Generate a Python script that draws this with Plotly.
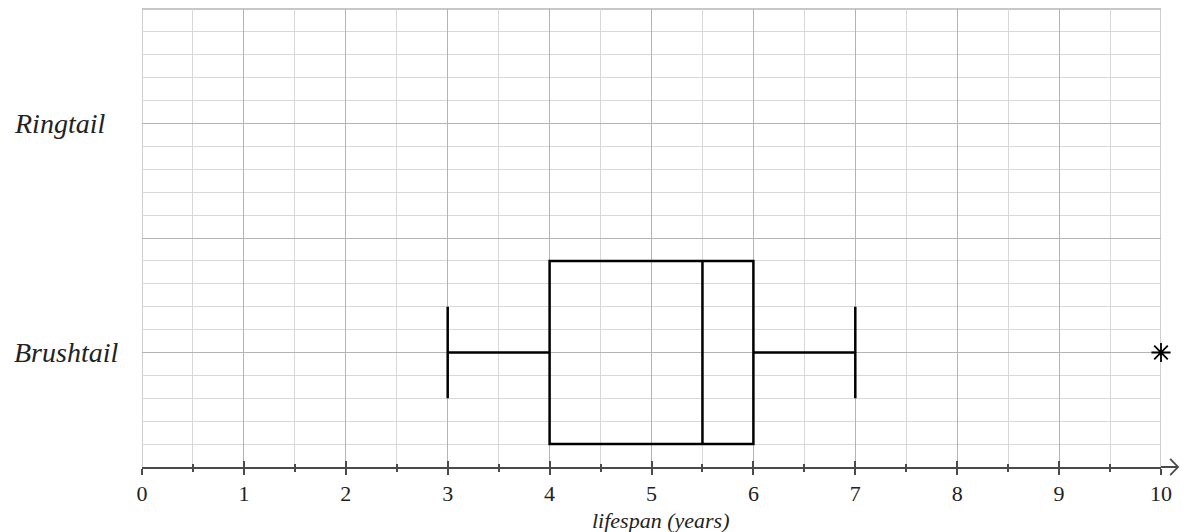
import plotly.graph_objects as go

# Data
categories = ["Brushtail", "Ringtail"]
category_pos = [5, 15]
brush_q1 = [4]
brush_median = [5.5]
brush_q3 = [6]
brush_lower = [3]
brush_upper = [7]
brush_outliers = [10]
x_tick_vals = list(range(0, 11))
x_tick_text = [str(v) for v in x_tick_vals]

SERIF = "Liberation Serif"
MAJOR = "#b4b4b4"
MINOR = "#d8d8d8"
AXIS = "#4a4a4a"

fig = go.Figure()

fig.add_trace(go.Box(
    y=[category_pos[0]],
    q1=brush_q1, median=brush_median, q3=brush_q3,
    lowerfence=brush_lower, upperfence=brush_upper,
    orientation="h", width=8, whiskerwidth=0.5,
    line=dict(color="black", width=2.5),
    fillcolor="rgba(0,0,0,0)", boxpoints=False,
    showlegend=False, hoverinfo="x",
))

fig.add_trace(go.Scatter(
    x=brush_outliers, y=[category_pos[0]] * len(brush_outliers),
    mode="markers", cliponaxis=False,
    marker=dict(symbol="asterisk-open", size=16, line=dict(color="black", width=1.8), color="black"),
    showlegend=False,
))

# invisible trace for overlay axis (inside tick marks)
fig.add_trace(go.Scatter(x=[0, 10], y=[0, 0], xaxis="x2", mode="lines",
                         line=dict(width=0), hoverinfo="skip", showlegend=False))

fig.update_layout(
    width=1187, height=532,
    margin=dict(l=142, r=26, t=9, b=65),
    paper_bgcolor="white", plot_bgcolor="white",
    xaxis=dict(
        range=[0, 10], tickvals=x_tick_vals, ticktext=x_tick_text,
        showgrid=True, gridcolor=MAJOR, gridwidth=1.3,
        minor=dict(dtick=0.5, showgrid=True, gridcolor=MINOR, gridwidth=1.3,
                   ticks="outside", ticklen=3, tickwidth=1.5, tickcolor=AXIS),
        showline=True, linecolor=AXIS, linewidth=2,
        ticks="outside", ticklen=6, tickwidth=2, tickcolor=AXIS,
        tickfont=dict(family=SERIF, size=22, color="#222"),
        zeroline=False,
    ),
    xaxis2=dict(
        range=[0, 10], overlaying="x", anchor="y", side="bottom",
        tickvals=x_tick_vals, showticklabels=False, showgrid=False, zeroline=False,
        ticks="inside", ticklen=6, tickwidth=2, tickcolor=AXIS,
        minor=dict(dtick=0.5, ticks="inside", ticklen=3, tickwidth=1.5, tickcolor=AXIS),
        showline=False,
    ),
    yaxis=dict(
        range=[0, 20], dtick=5, showgrid=True, gridcolor=MAJOR, gridwidth=1.3,
        minor=dict(dtick=1, showgrid=True, gridcolor=MINOR, gridwidth=1.3),
        showticklabels=False, zeroline=False, showline=False, ticks="",
    ),
    shapes=[
        dict(type="line", xref="x", yref="paper", x0=0, x1=0, y0=0, y1=1,
             line=dict(color=MAJOR, width=1.3), layer="below"),
        dict(type="line", xref="x", yref="paper", x0=10, x1=10, y0=0, y1=1,
             line=dict(color=MAJOR, width=1.3), layer="below"),
        dict(type="line", xref="paper", yref="paper", x0=0, x1=1, y0=1, y1=1,
             line=dict(color=MAJOR, width=1.3), layer="below"),
        # axis arrow extension
        dict(type="line", xref="paper", yref="paper", x0=1, x1=1.0167, y0=0, y1=0,
             line=dict(color=AXIS, width=2)),
        dict(type="path", xref="paper", yref="paper",
             path="M 1.009,0.018 L 1.0167,0 L 1.009,-0.018",
             line=dict(color=AXIS, width=1.8)),
    ],
    annotations=[
        dict(text="<i>%s</i>" % name, xref="paper", yref="y", x=-0.1276, y=pos,
             xanchor="left", yanchor="middle", showarrow=False,
             font=dict(family=SERIF, size=28, color="#222"))
        for name, pos in zip(categories, category_pos)
    ] + [
        dict(text="<i>lifespan (years)</i>", xref="x", yref="paper", x=5.09, y=-0.117,
             xanchor="center", yanchor="middle", showarrow=False,
             font=dict(family=SERIF, size=22, color="#222")),
    ],
)

fig.write_html(
    "out.html",
    config={"displayModeBar": False},
    post_script="document.body.style.margin='0';document.body.style.overflow='hidden';",
)
